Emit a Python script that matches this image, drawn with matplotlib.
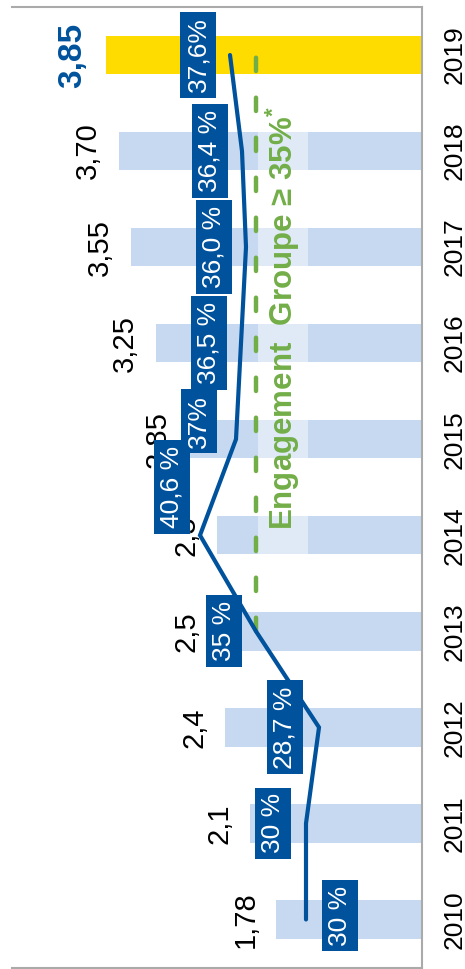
import matplotlib
matplotlib.use("Agg")
from matplotlib import pyplot as plt
from matplotlib.patches import Rectangle

plt.rcParams['font.family'] = ['Liberation Sans', 'DejaVu Sans']
plt.rcParams['mathtext.fontset'] = 'custom'
plt.rcParams['mathtext.rm'] = 'Liberation Sans:bold'

# Dividend per share (EUR) and payout ratio (%) by year
years = ["2010", "2011", "2012", "2013", "2014", "2015", "2016", "2017", "2018", "2019"]
dividend = [1.78, 2.10, 2.40, 2.50, 2.50, 2.85, 3.25, 3.55, 3.70, 3.85]
dividend_labels = ["1,78", "2,1", "2,4", "2,5", "2,5", "2,85", "3,25", "3,55", "3,70", "3,85"]
payout = [30.0, 30.0, 28.7, 35.0, 40.6, 37.0, 36.5, 36.0, 36.4, 37.6]
payout_labels = ["30 %", "30 %", "28,7 %", "35 %", "40,6 %", "37%", "36,5 %", "36,0 %", "36,4 %", "37,6%"]
target = 35.0
target_from = "2013"

# Offsets (px) of the payout boxes relative to the line points
box_offsets = [(34, 4), (-33, 0), (-34, 0), (-32, 0), (-28, 48),
               (-37, 18), (-32, 0), (-32, 0), (-32, 0), (-32, 0)]

blue = "#00529C"
light_blue = "#C6D9F0"
yellow = "#FFDC00"
green = "#72AE48"
grey = "#AAAAAA"

fig = plt.figure(figsize=(4.65, 9.69), dpi=100)
ax = fig.add_axes([12 / 465, 1.5 / 969, 410 / 465, 960.5 / 969])

ypos = list(range(len(years)))
colors = [light_blue] * (len(years) - 1) + [yellow]
ax.barh(ypos, dividend, height=0.4, color=colors, zorder=1)

ax.set_xlim(5.0, 0)
ax.set_ylim(-0.5, len(years) - 0.5)

# dividend values next to each bar
for i, (v, s) in enumerate(zip(dividend, dividend_labels)):
    if i == len(years) - 1:
        ax.annotate(s, (v, i), xytext=(-13, 0), textcoords="offset points",
                    rotation=90, ha="right", va="center", fontsize=24,
                    fontweight="bold", color=blue, zorder=2)
    else:
        ax.annotate(s, (v, i), xytext=(-12, 0), textcoords="offset points",
                    rotation=90, ha="right", va="center", fontsize=21,
                    color="black", zorder=2)

ax.yaxis.tick_right()
ax.set_yticks(ypos)
ax.set_yticklabels(years, rotation=90, va="center", fontsize=19)
ax.tick_params(axis="y", length=0, pad=15)
ax.set_xticks([])

for side in ["top", "right", "bottom"]:
    ax.spines[side].set_color(grey)
    ax.spines[side].set_linewidth(1.5)
ax.spines["left"].set_visible(False)

# payout ratio on its own scale
ax2 = ax.twiny()
ax2.set_xlim(59.4, 18.4)
ax2.set_ylim(ax.get_ylim())
ax2.set_xticks([])
for side in ax2.spines:
    ax2.spines[side].set_visible(False)

# translucent panel behind the commitment text
ax.add_patch(Rectangle((1.39, 3.75), 0.61, 4.85, facecolor="white",
                       alpha=0.45, edgecolor="none", zorder=1.5))

start = years.index(target_from)
ax2.plot([target, target], [start, len(years) - 1], color=green, lw=3.2,
         dashes=(3.0, 6.0), dash_capstyle="round", zorder=3)
ax2.text(32.3, 6.26, "Engagement  Groupe ≥ 35%$^{*}$", rotation=90,
         ha="center", va="center", fontsize=22.5, fontweight="bold",
         color=green, zorder=3)

ax2.plot(payout, ypos, color=blue, lw=3, solid_capstyle="round",
         solid_joinstyle="miter", zorder=4)

for i, (v, s) in enumerate(zip(payout, payout_labels)):
    dx, dy = box_offsets[i]
    ax2.annotate(s, (v, i), xytext=(dx * 0.72, dy * 0.72), textcoords="offset points",
                 rotation=90, ha="center", va="center", fontsize=19, color="white",
                 bbox=dict(boxstyle="square,pad=0.22", facecolor=blue, edgecolor="none"),
                 zorder=5)

fig.savefig("out.png", dpi=100)
